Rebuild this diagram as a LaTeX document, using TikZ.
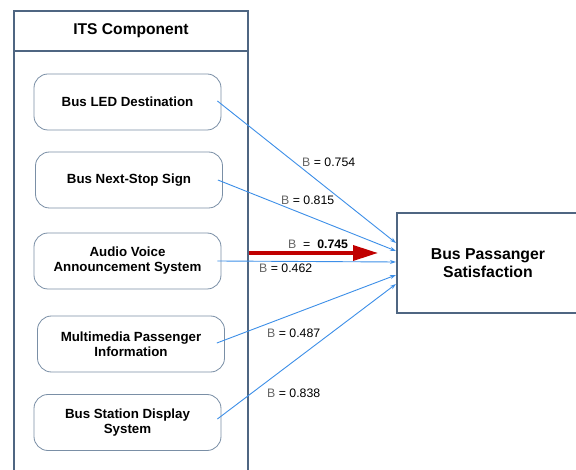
\documentclass[tikz,border=0pt]{standalone}
\usepackage{fontspec}
\setmainfont{Liberation Sans}
\usetikzlibrary{arrows.meta,calc}
\definecolor{frame}{HTML}{4F6682}
\definecolor{boxline}{HTML}{7A8FA6}
\definecolor{link}{HTML}{3D8FE8}
\definecolor{hot}{HTML}{C00000}
\newcommand\bsym{{\color{black!60}B}}
\begin{document}
\begin{tikzpicture}[x=1pt,y=-1pt,
  comp/.style={draw=boxline, line width=0.8pt, rounded corners=14pt, fill=white,
    minimum width=187pt, minimum height=56pt, align=center, inner sep=2pt,
    font=\fontsize{13.3}{15}\selectfont\bfseries},
  target/.style={draw=frame, line width=2.5pt, fill=white, minimum width=182pt,
    minimum height=100pt, align=center, font=\fontsize{15.8}{18}\selectfont\bfseries},
  title/.style={font=\fontsize{15.6}{18}\selectfont\bfseries, inner sep=0pt},
  lab/.style={anchor=west, inner sep=0pt, font=\fontsize{12.3}{14}\selectfont},
  link/.style={draw=link, line width=0.9pt, -{Stealth[length=6pt,width=4pt]}},
  hotarrow/.style={draw=hot, line width=3.5pt, -{Triangle[length=25pt,width=15pt]}}
]
\useasboundingbox (0,0) rectangle (576,470);
\clip (0,0) rectangle (576,470);
\fill[white] (0,0) rectangle (576,470);

% container
\draw[frame, line width=2.5pt] (14,11) rectangle (248,490);
\draw[frame, line width=2.5pt] (14,51) -- (248,51);
\node[title] (ttl) at (131,31) {ITS Component};

% components
\node[comp] (b1) at (127.5,102) {Bus LED Destination};
\node[comp] (b2) at (129,180) {Bus Next-Stop Sign};
\node[comp] (b3) at (127.5,261) {Audio Voice\\Announcement System};
\node[comp] (b4) at (131,344) {Multimedia Passenger\\Information};
\node[comp] (b5) at (127.5,422.5) {Bus Station Display\\System};

% target
\node[target] (t) at (488,263) {Bus Passanger\\Satisfaction};

% end points on target
\coordinate (e1) at (396,243);
\coordinate (e2) at (396,251);
\coordinate (e3) at (396,262);
\coordinate (e4) at (396,275);
\coordinate (e5) at (396,284);

\draw[link] ([xshift=-4pt,yshift=1pt]b1.east) -- (e1);
\draw[link] ([xshift=-5pt]b2.east) -- (e2);
\draw[link] ([xshift=-4pt]b3.east) -- (e3);
\draw[link] ([xshift=-8pt,yshift=1pt]b4.east) -- (e4);
\draw[link] ([xshift=-4pt,yshift=3.5pt]b5.east) -- (e5);

% highlighted arrow
\coordinate (r0) at (249,253);
\coordinate (r1) at (378,253);
\draw[hotarrow] (r0) -- (r1);

% labels
\node[lab] (l1) at (302,162) {\bsym{} = 0.754};
\node[lab] (l2) at (281,200) {\bsym{} = 0.815};
\node[lab] (l3) at (288,244) {\bsym{} \ = \ \textbf{0.745}};
\node[lab] (l4) at (259,268) {\bsym{} = 0.462};
\node[lab] (l5) at (267,333) {\bsym{} = 0.487};
\node[lab] (l6) at (267,393) {\bsym{} = 0.838};
\end{tikzpicture}
\end{document}
